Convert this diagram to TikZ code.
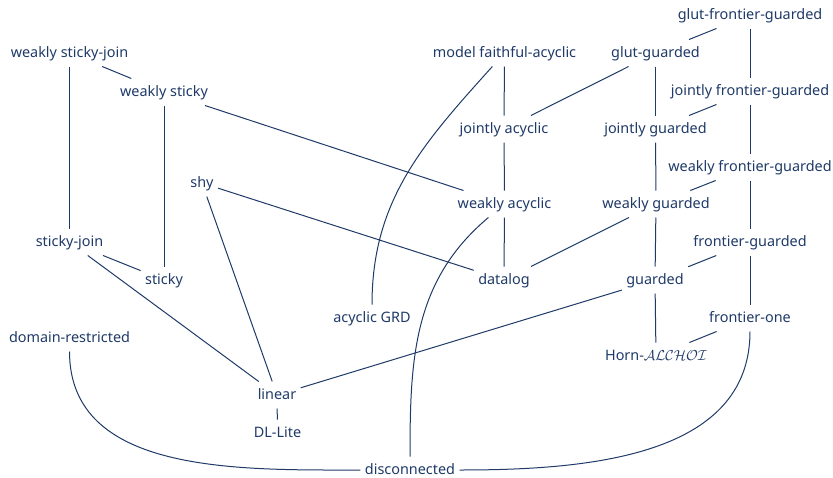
\documentclass[tikz,border=0pt]{standalone}
\usepackage{amsmath}
\usepackage{amssymb}
\usepackage{fontspec}
\setmainfont{Noto Sans}
\definecolor{navy}{RGB}{31,58,104}

\begin{document}
\begin{tikzpicture}[x=1pt,y=1pt,color=navy,line width=1pt,
  every node/.style={anchor=base,font=\fontsize{14.4}{17}\selectfont,text height=12.5pt,text depth=4.5pt,inner xsep=4pt,inner ysep=4.5pt}]
\useasboundingbox (0,0) rectangle (833,-477);
\node (wsj) at (69.5,-57) {weakly sticky-join};
\node (ws) at (164,-96) {weakly sticky};
\node (shy) at (202,-187) {shy};
\node (sj) at (69.5,-246) {sticky-join};
\node (st) at (164,-284) {sticky};
\node (dr) at (69.5,-342) {domain-restricted};
\node (lin) at (277,-399) {linear};
\node (dll) at (277.5,-437) {DL-Lite};
\node (dis) at (410,-474) {disconnected};
\node (agrd) at (372,-322) {acyclic GRD};
\node (mfa) at (504.5,-57) {model faithful-acyclic};
\node (ja) at (504,-133) {jointly acyclic};
\node (wa) at (504.5,-208) {weakly acyclic};
\node (dl) at (504,-284) {datalog};
\node (gg) at (655.5,-57) {glut-guarded};
\node (jg) at (655.5,-133) {jointly guarded};
\node (wg) at (656,-208) {weakly guarded};
\node (gd) at (655,-284) {guarded};
\node (horn) at (656,-360) {Horn-{\fontsize{13.5}{16}\selectfont$\mathcal{ALCHOI}$}};
\node (gfg) at (750,-19) {glut-frontier-guarded};
\node (jfg) at (750,-95) {jointly frontier-guarded};
\node (wfg) at (750,-171) {weakly frontier-guarded};
\node (fg) at (750,-246) {frontier-guarded};
\node (fo) at (750,-322) {frontier-one};
\foreach \a/\b in {wsj/sj,wsj/ws,ws/st,ws/wa,shy/dl,shy/lin,sj/st,sj/lin,lin/gd,lin/dll,
  mfa/ja,ja/wa,wa/dl,gg/ja,gg/jg,jg/wg,wg/gd,wg/dl,gfg/gg,gfg/jfg,jfg/jg,jfg/wfg,
  wfg/wg,wfg/fg,fg/gd,fg/fo,gd/horn,fo/horn}
\draw (\a) -- (\b);
\draw (agrd.north) to[out=90,in=-132] (mfa);
\draw (dis.north) to[out=90,in=-140] (wa);
\draw (dr.south) to[out=-90,in=180] (dis.west);
\draw (dis.east) to[out=0,in=-90] (fo.south);
\end{tikzpicture}
\end{document}
